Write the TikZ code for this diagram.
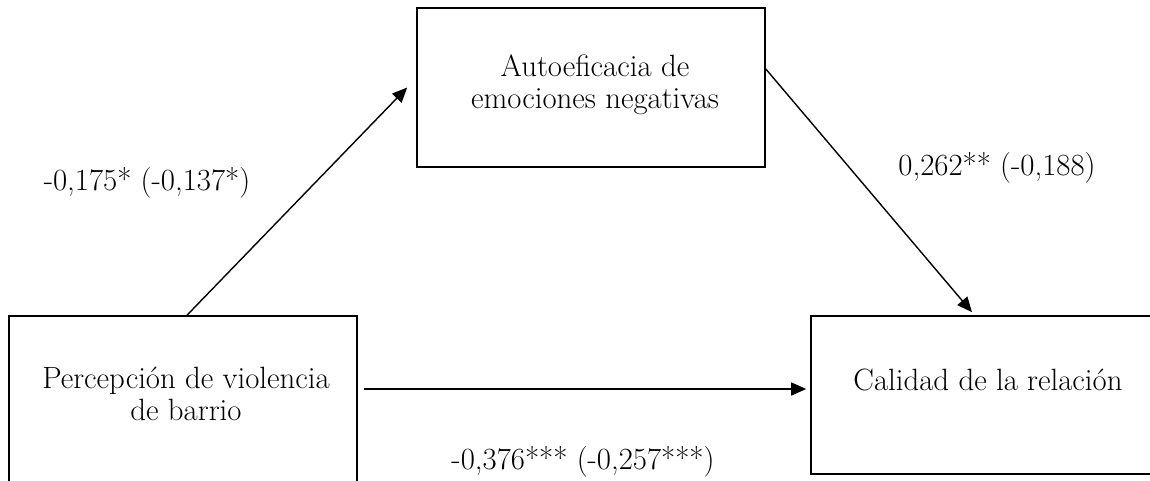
\documentclass[tikz,border=0pt]{standalone}
\usetikzlibrary{arrows.meta,calc}
\begin{document}
\begin{tikzpicture}[x=1pt,y=-1pt,
  box/.style={draw, rectangle, line width=1.6pt, inner sep=0pt},
  lbl/.style={font=\fontsize{30.8}{32}\selectfont, align=center, inner sep=0pt},
  arr/.style={line width=1.4pt, -{Triangle[length=15pt,width=13pt]}}]
\useasboundingbox (0,0) rectangle (1150,480);
\clip (0,0) rectangle (1150,480);
% boxes
\node[box, minimum width=348pt, minimum height=159pt] (ae) at (591,87.5) {};
\node[box, minimum width=348pt, minimum height=180pt] (pv) at (183,406) {};
\node[box, minimum width=354pt, minimum height=158pt] (cr) at (988,395) {};
% box texts
\node[lbl] (aet) at (595,85) {Autoeficacia de\\emociones negativas};
\node[lbl] (pvt) at (186,394) {Percepción de violencia\\de barrio};
\node[lbl] (crt) at (988,380) {Calidad de la relación};
% connectors
\draw[arr] ([xshift=4pt]pv.north) -- ([xshift=-9pt]ae.west);
\draw[arr] ([yshift=18.5pt]ae.east) -- ([xshift=-16pt,yshift=3pt]cr.north);
\draw[arr] ($(pv.east|-0,389)+(6,0)$) -- ($(cr.west|-0,389)+(-4,0)$);
% coefficient labels
\node[lbl] (l1) at (147,183) {-0,175* (-0,137*)};
\node[lbl] (l2) at (997,168) {0,262** (-0,188)};
\node[lbl] (l3) at (583,462) {-0,376*** (-0,257***)};
\end{tikzpicture}
\end{document}
